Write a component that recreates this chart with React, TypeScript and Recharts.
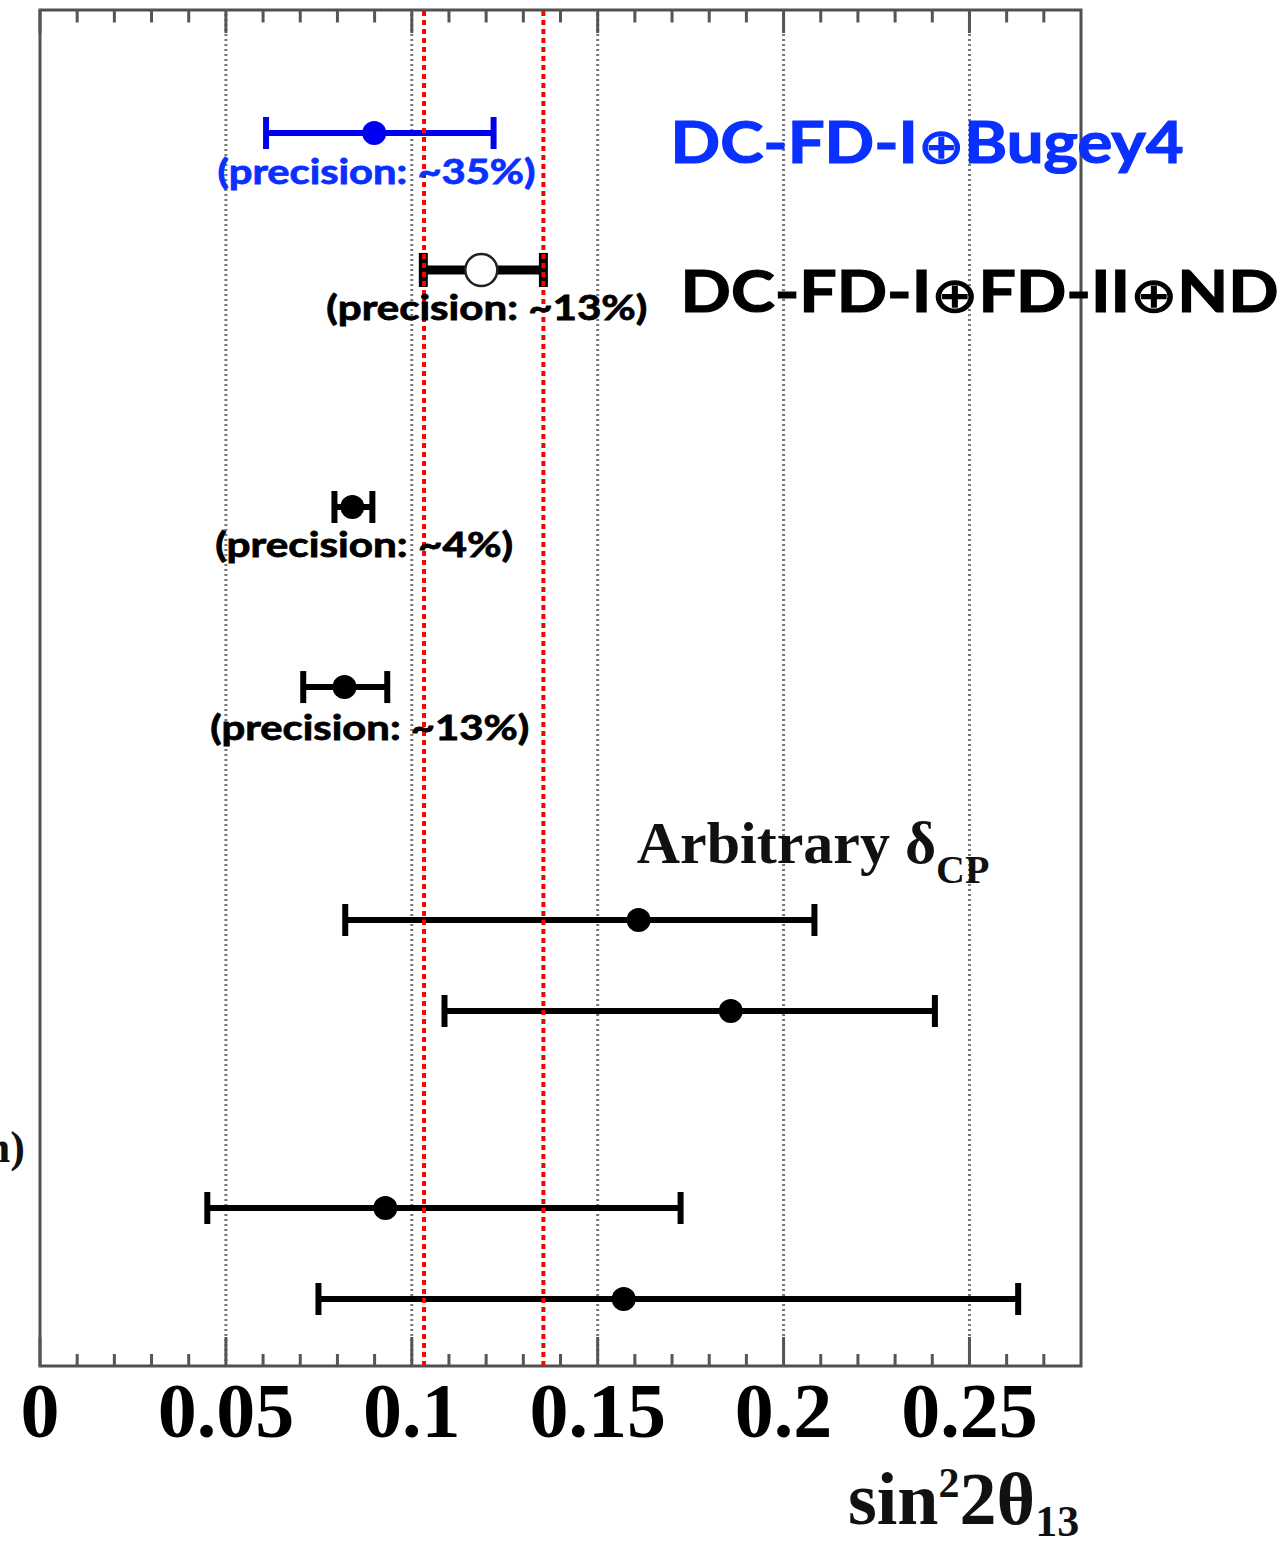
import React from 'react';
import {
  ComposedChart,
  Scatter,
  XAxis,
  YAxis,
  ErrorBar,
  ReferenceLine,
  ReferenceArea,
  ReferenceDot,
} from 'recharts';

// ---- data ----
const centralValues = [0.0899, 0.1187, 0.084, 0.0819, 0.161, 0.1858, 0.0929, 0.157];
const lowerEdges = [0.0608, 0.1031, 0.0792, 0.0708, 0.0821, 0.1088, 0.045, 0.0749];
const upperEdges = [0.122, 0.1354, 0.0894, 0.0934, 0.2083, 0.2407, 0.1723, 0.2631];
// vertical row position of each measurement (0 = top of frame, 100 = bottom)
const rowPositions = [9.07, 19.17, 36.65, 49.93, 67.11, 73.82, 88.35, 95.06];

const majorTicks = [0, 0.05, 0.1, 0.15, 0.2, 0.25];
const tickLabels = ['0', '0.05', '0.1', '0.15', '0.2', '0.25'];
const minorTicks = [
  0.01, 0.02, 0.03, 0.04, 0.06, 0.07, 0.08, 0.09, 0.11, 0.12, 0.13, 0.14,
  0.16, 0.17, 0.18, 0.19, 0.21, 0.22, 0.23, 0.24, 0.26, 0.27,
];
const gridValues = [0.05, 0.1, 0.15, 0.2, 0.25];
const referenceBand = [0.1033, 0.1354];
const precisionLabels = ['(precision: ~35%)', '(precision: ~13%)', '(precision: ~4%)', '(precision: ~13%)'];
const combinationParts = [
  ['DC-FD-I', 'Bugey4'],
  ['DC-FD-I', 'FD-II', 'ND'],
];

const points = centralValues.map((c, i) => ({
  x: c,
  y: rowPositions[i],
  err: [c - lowerEdges[i], upperEdges[i] - c],
}));

const BLUE = '#0000f0';
const TEXT_BLUE = '#0a30ff';
const SANS = "Lato, 'Open Sans', sans-serif";
const SERIF = "'Liberation Serif', 'Times New Roman', serif";

const W = 1288;
const H = 1545;

const Annot = (
  key: string,
  x: number,
  y: number,
  render: (px: number, py: number) => React.ReactElement
) => (
  <ReferenceDot
    key={key}
    x={x}
    y={y}
    r={0}
    fill="none"
    stroke="none"
    ifOverflow="visible"
    isFront
    label={{
      content: (p: any) => {
        const vb = p.viewBox || {};
        const px = (vb.x ?? 0) + (vb.width ?? 0) / 2;
        const py = (vb.y ?? 0) + (vb.height ?? 0) / 2;
        return render(px, py);
      },
    }}
  />
);

const Combo = ({ parts }: { parts: string[] }) => (
  <>
    {parts.map((s, i) => (
      <React.Fragment key={i}>
        {i > 0 ? (
          <tspan fontFamily="'DejaVu Sans', sans-serif" fontWeight={400} fontSize="0.85em">⊕</tspan>
        ) : null}
        <tspan>{s}</tspan>
      </React.Fragment>
    ))}
  </>
);

const TickLabel = (props: any) => {
  const { x, y, payload } = props;
  const idx = majorTicks.indexOf(payload.value);
  return (
    <text
      x={x}
      y={y + 71}
      textAnchor="middle"
      fontFamily={SERIF}
      fontWeight="bold"
      fontSize={78}
      fill="#000"
    >
      {idx >= 0 ? tickLabels[idx] : ''}
    </text>
  );
};

export default function App() {
  return (
    <div style={{ position: 'absolute', left: 0, top: 0, width: W, height: H, background: '#fff' }}>
      <ComposedChart
        width={W}
        height={H}
        margin={{ top: 10, right: 207, left: 40, bottom: 79 }}
      >
        <XAxis
          type="number"
          dataKey="x"
          domain={[0, 0.28]}
          ticks={majorTicks}
          allowDataOverflow
          axisLine={false}
          tickLine={false}
          tickSize={0}
          tickMargin={0}
          height={100}
          tick={<TickLabel />}
          interval={0}
        />
        <YAxis type="number" dataKey="y" domain={[0, 100]} reversed hide allowDataOverflow />

        {gridValues.map((g) => (
          <ReferenceLine
            key={'g' + g}
            x={g}
            stroke="#777"
            strokeWidth={3}
            strokeDasharray="2 3"
          />
        ))}

        {minorTicks.map((t) => (
          <ReferenceLine
            key={'mb' + t}
            segment={[{ x: t, y: 100 }, { x: t, y: 100 - 0.885 }]}
            stroke="#555"
            strokeWidth={3}
          />
        ))}
        {minorTicks.map((t) => (
          <ReferenceLine
            key={'mt' + t}
            segment={[{ x: t, y: 0 }, { x: t, y: 0.92 }]}
            stroke="#555"
            strokeWidth={3}
          />
        ))}
        {majorTicks.map((t) => (
          <ReferenceLine
            key={'Mb' + t}
            segment={[{ x: t, y: 100 }, { x: t, y: 100 - 2.14 }]}
            stroke="#555"
            strokeWidth={3}
          />
        ))}
        {majorTicks.map((t) => (
          <ReferenceLine
            key={'Mt' + t}
            segment={[{ x: t, y: 0 }, { x: t, y: 1.7 }]}
            stroke="#555"
            strokeWidth={3}
          />
        ))}

        <ReferenceArea
          x1={0}
          x2={0.28}
          y1={0}
          y2={100}
          fill="#fff"
          fillOpacity={0}
          stroke="#505050"
          strokeWidth={3}
          ifOverflow="visible"
        />

        <Scatter
          data={[points[0]]}
          isAnimationActive={false}
          shape={(p: any) => <circle cx={p.cx} cy={p.cy} r={12} fill={BLUE} />}
        >
          <ErrorBar dataKey="err" direction="x" width={16} strokeWidth={6} stroke={BLUE} />
        </Scatter>
        <Scatter
          data={[points[1]]}
          isAnimationActive={false}
          shape={(p: any) => (
            <circle cx={p.cx} cy={p.cy} r={16} fill="#fff" stroke="#222" strokeWidth={2.5} />
          )}
        >
          <ErrorBar dataKey="err" direction="x" width={17} strokeWidth={9} stroke="#000" />
        </Scatter>
        <Scatter
          data={points.slice(2)}
          isAnimationActive={false}
          shape={(p: any) => <circle cx={p.cx} cy={p.cy} r={12} fill="#000" />}
        >
          <ErrorBar dataKey="err" direction="x" width={16} strokeWidth={6} stroke="#000" />
        </Scatter>

        {referenceBand.map((v) => (
          <ReferenceLine
            key={'r' + v}
            x={v}
            stroke="#ff0000"
            strokeWidth={4}
            strokeDasharray="5 4"
          />
        ))}

        {Annot('p0', 0.0905, 12.83, (x, y) => (
          <text x={x} y={y} textAnchor="middle" fontFamily={SANS} fontWeight="bold" fontSize={34} fill={TEXT_BLUE} stroke={TEXT_BLUE} strokeWidth={0.8} textLength={318} lengthAdjust="spacingAndGlyphs">
            {precisionLabels[0]}
          </text>
        ))}
        {Annot('p1', 0.1202, 22.86, (x, y) => (
          <text x={x} y={y} textAnchor="middle" fontFamily={SANS} fontWeight="bold" fontSize={34} fill="#000" stroke="#000" strokeWidth={0.8} textLength={321} lengthAdjust="spacingAndGlyphs">
            {precisionLabels[1]}
          </text>
        ))}
        {Annot('p2', 0.0872, 40.34, (x, y) => (
          <text x={x} y={y} textAnchor="middle" fontFamily={SANS} fontWeight="bold" fontSize={34} fill="#000" stroke="#000" strokeWidth={0.8} textLength={298} lengthAdjust="spacingAndGlyphs">
            {precisionLabels[2]}
          </text>
        ))}
        {Annot('p3', 0.0887, 53.83, (x, y) => (
          <text x={x} y={y} textAnchor="middle" fontFamily={SANS} fontWeight="bold" fontSize={34} fill="#000" stroke="#000" strokeWidth={0.8} textLength={319} lengthAdjust="spacingAndGlyphs">
            {precisionLabels[3]}
          </text>
        ))}
        {Annot('c0', 0.1696, 11.28, (x, y) => (
          <text x={x} y={y} textAnchor="start" fontFamily={SANS} fontWeight="bold" fontSize={57} fill={TEXT_BLUE} stroke={TEXT_BLUE} strokeWidth={1.2} textLength={513} lengthAdjust="spacingAndGlyphs">
            <Combo parts={combinationParts[0]} />
          </text>
        ))}
        {Annot('c1', 0.1723, 22.27, (x, y) => (
          <text x={x} y={y} textAnchor="start" fontFamily={SANS} fontWeight="bold" fontSize={57} fill="#000" stroke="#000" strokeWidth={1.2} textLength={598} lengthAdjust="spacingAndGlyphs">
            <Combo parts={combinationParts[1]} />
          </text>
        ))}
        {Annot('arb', 0.1605, 62.9, (x, y) => (
          <text x={x} y={y} textAnchor="start" fontFamily={SERIF} fontWeight="bold" fontSize={60} fill="#111">
            Arbitrary δ
            <tspan dy={20} fontSize={40}>CP</tspan>
          </text>
        ))}
        {Annot('cut', -0.00404, 84.96, (x, y) => (
          <text x={x} y={y} textAnchor="end" fontFamily={SERIF} fontWeight="bold" fontSize={44} fill="#111">
            n)
          </text>
        ))}
        {Annot('axis', 0.2795, 111.65, (x, y) => (
          <text x={x} y={y} textAnchor="end" fontFamily={SERIF} fontWeight="bold" fontSize={74} fill="#111">
            sin
            <tspan dy={-27} fontSize={42}>2</tspan>
            <tspan dy={27}>2θ</tspan>
            <tspan dy={12} fontSize={44}>13</tspan>
          </text>
        ))}
      </ComposedChart>
    </div>
  );
}
